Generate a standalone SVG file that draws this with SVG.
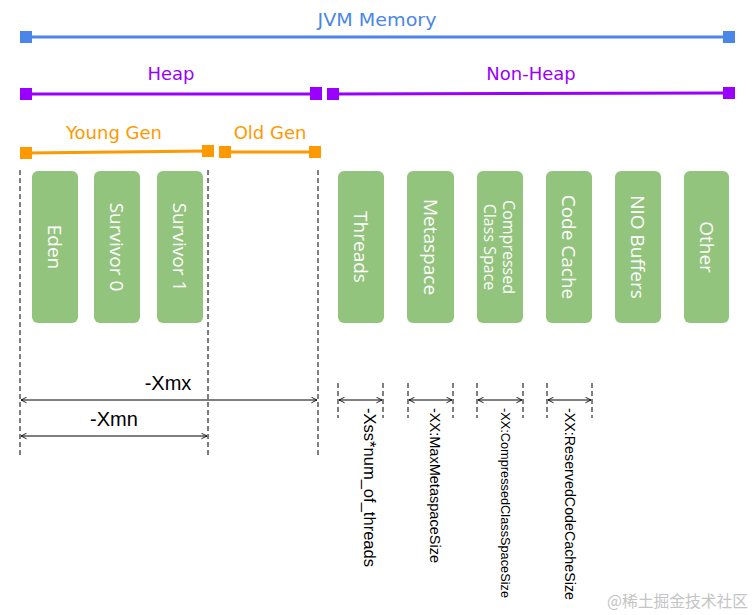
<svg xmlns="http://www.w3.org/2000/svg" width="753" height="615" viewBox="0 0 753 615">
<defs>
<marker id="ah" viewBox="0 0 10 10" refX="9" refY="5" markerWidth="7" markerHeight="7" orient="auto-start-reverse" markerUnits="userSpaceOnUse">
<path d="M1,1 L9,5 L1,9" fill="none" stroke="#000" stroke-width="1.2"/>
</marker>
<style>
.hdr{font-family:"DejaVu Sans",Verdana,sans-serif;font-size:18px;text-anchor:middle}
.box{fill:#93c47d}
.bt{font-family:"Open Sans","DejaVu Sans",sans-serif;font-size:19px;fill:#fff;text-anchor:middle;dominant-baseline:central}
.dash{stroke:#000;stroke-width:1;stroke-dasharray:5 3;fill:none}
.dim{stroke:#000;stroke-width:1;fill:none;marker-start:url(#ah);marker-end:url(#ah)}
.dt{font-family:"Liberation Sans",Arial,sans-serif;fill:#000}
</style>
</defs>
<rect width="753" height="615" fill="#fff"/>

<g id="jvm-memory">
<line x1="26" y1="37" x2="729" y2="37" stroke="#4a86e8" stroke-width="3"/>
<rect x="20" y="31" width="12" height="12" fill="#4a86e8"/>
<rect x="723" y="31" width="12" height="12" fill="#4a86e8"/>
<text class="hdr" x="377" y="26" fill="#4a86e8" textLength="119" lengthAdjust="spacingAndGlyphs">JVM Memory</text>
</g>

<g id="heap">
<line x1="26" y1="94" x2="316" y2="94" stroke="#9900ff" stroke-width="3"/>
<rect x="20" y="88" width="12" height="12" fill="#9900ff"/>
<rect x="310" y="87" width="12" height="13" fill="#9900ff"/>
<text class="hdr" x="171" y="80" fill="#9900ff">Heap</text>
</g>

<g id="non-heap">
<line x1="333" y1="94" x2="729" y2="93" stroke="#9900ff" stroke-width="3"/>
<rect x="327" y="88" width="12" height="12" fill="#9900ff"/>
<rect x="723" y="87" width="12" height="12" fill="#9900ff"/>
<text class="hdr" x="531" y="80" fill="#9900ff">Non-Heap</text>
</g>

<g id="young-gen">
<line x1="26" y1="153" x2="208" y2="151" stroke="#ff9900" stroke-width="3"/>
<rect x="20" y="147" width="12" height="12" fill="#ff9900"/>
<rect x="202" y="145" width="12" height="12" fill="#ff9900"/>
<text class="hdr" x="114" y="139" fill="#ff9900">Young Gen</text>
</g>

<g id="old-gen">
<line x1="226" y1="152" x2="316" y2="152" stroke="#ff9900" stroke-width="3"/>
<rect x="219" y="146" width="12" height="12" fill="#ff9900"/>
<rect x="309" y="146" width="12" height="12" fill="#ff9900"/>
<text class="hdr" x="270" y="139" fill="#ff9900">Old Gen</text>
</g>

<g id="eden"><rect class="box" x="32" y="171" width="46" height="152" rx="6"/><text class="bt" transform="translate(55,247) rotate(90)">Eden</text></g>
<g id="survivor-0"><rect class="box" x="94" y="171" width="46" height="152" rx="6"/><text class="bt" transform="translate(117,247) rotate(90)">Survivor 0</text></g>
<g id="survivor-1"><rect class="box" x="157" y="171" width="46" height="152" rx="6"/><text class="bt" transform="translate(180,247) rotate(90)">Survivor 1</text></g>
<g id="threads"><rect class="box" x="338" y="171" width="46" height="152" rx="6"/><text class="bt" transform="translate(361,247) rotate(90)">Threads</text></g>
<g id="metaspace"><rect class="box" x="407" y="171" width="47" height="152" rx="6"/><text class="bt" transform="translate(430.5,247) rotate(90)">Metaspace</text></g>
<g id="compressed-class-space"><rect class="box" x="477" y="171" width="46" height="152" rx="6"/><text class="bt" style="font-size:16px" transform="translate(509,247) rotate(90)">Compressed</text><text class="bt" style="font-size:16px" transform="translate(490,247) rotate(90)">Class Space</text></g>
<g id="code-cache"><rect class="box" x="546" y="171" width="46" height="152" rx="6"/><text class="bt" transform="translate(569,247) rotate(90)">Code Cache</text></g>
<g id="nio-buffers"><rect class="box" x="615" y="171" width="46" height="152" rx="6"/><text class="bt" transform="translate(638,247) rotate(90)">NIO Buffers</text></g>
<g id="other"><rect class="box" x="684" y="171" width="45" height="152" rx="6"/><text class="bt" transform="translate(706.5,247) rotate(90)">Other</text></g>

<g id="connectors">
<line class="dash" x1="20" y1="170" x2="20" y2="456"/>
<line class="dash" x1="208" y1="170" x2="208" y2="456"/>
<line class="dash" x1="318" y1="170" x2="318" y2="456"/>
<line class="dim" x1="21" y1="400" x2="317" y2="400"/>
<line class="dim" x1="21" y1="436" x2="207" y2="436"/>

<line class="dash" x1="338" y1="383" x2="338" y2="418"/>
<line class="dash" x1="383" y1="383" x2="383" y2="418"/>
<line class="dim" x1="339" y1="400" x2="382" y2="400"/>

<line class="dash" x1="408" y1="383" x2="408" y2="418"/>
<line class="dash" x1="453" y1="383" x2="453" y2="418"/>
<line class="dim" x1="409" y1="400" x2="452" y2="400"/>

<line class="dash" x1="477" y1="383" x2="477" y2="418"/>
<line class="dash" x1="523" y1="383" x2="523" y2="418"/>
<line class="dim" x1="478" y1="400" x2="522" y2="400"/>

<line class="dash" x1="547" y1="383" x2="547" y2="418"/>
<line class="dash" x1="592" y1="383" x2="592" y2="418"/>
<line class="dim" x1="548" y1="400" x2="591" y2="400"/>
</g>

<g id="labels">
<text class="dt" x="168" y="390" font-size="20" text-anchor="middle">-Xmx</text>
<text class="dt" x="114" y="426" font-size="20" text-anchor="middle">-Xmn</text>
<text class="dt" font-size="16" dominant-baseline="central" textLength="159" lengthAdjust="spacingAndGlyphs" transform="translate(369,408) rotate(90)">-Xss*num_of_threads</text>
<text class="dt" font-size="15" dominant-baseline="central" textLength="155" lengthAdjust="spacingAndGlyphs" transform="translate(435,408) rotate(90)">-XX:MaxMetaspaceSize</text>
<text class="dt" font-size="12.5" dominant-baseline="central" textLength="190" lengthAdjust="spacingAndGlyphs" transform="translate(505,408) rotate(90)">-XX:CompressedClassSpaceSize</text>
<text class="dt" font-size="14.5" dominant-baseline="central" textLength="192" lengthAdjust="spacingAndGlyphs" transform="translate(570,408) rotate(90)">-XX:ReservedCodeCacheSize</text>
</g>

<text x="607" y="607" font-family="'Noto Sans CJK SC',sans-serif" font-size="16" fill="#c4c4c4" textLength="141" lengthAdjust="spacingAndGlyphs">@稀土掘金技术社区</text>
</svg>
